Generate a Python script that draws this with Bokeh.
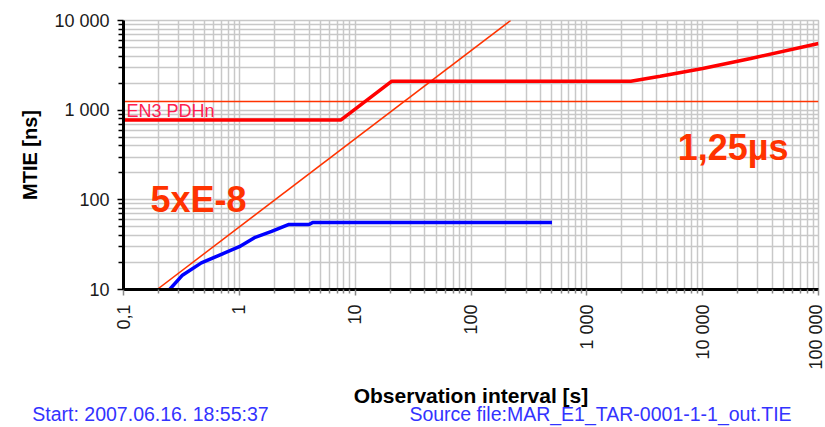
import math
from bokeh.plotting import figure
from bokeh.models import FixedTicker, Label, Range1d, LinearAxis, LinearScale
from bokeh.embed import file_html
from bokeh.resources import INLINE

# ---- data ----
x_ticks = [0.1, 1, 10, 100, 1000, 10000, 100000]
x_tick_labels = ["0,1", "1", "10", "100", "1 000", "10 000", "100 000"]
y_ticks = [10, 100, 1000, 10000]
y_tick_labels = ["10", "100", "1 000", "10 000"]

# measured MTIE (red, thick)
mtie_tau = [0.1, 7.5, 20.6, 2400, 4300, 10000, 26000, 100000]
mtie_ns = [775, 775, 2100, 2100, 2390, 2920, 3770, 5550]

# second measured MTIE (blue)
blue_tau = [0.25, 0.32, 0.47, 0.66, 1.0, 1.35, 1.9, 2.65, 4.0, 4.3, 500]
blue_ns = [10, 14.3, 19.8, 23.9, 30, 37.8, 44.5, 53, 53, 56, 56]

# 5xE-8 slope mask
slope_tau = [0.195, 220]
slope_ns = [10, 10000]

# EN3 PDHn limit 1,25 us
limit_tau = [0.1, 100000]
limit_ns = [1250, 1250]

footer_texts = ["Start: 2007.06.16. 18:55:37",
                "Source file:MAR_E1_TAR-0001-1-1_out.TIE"]

FONT = "Liberation Sans"

minor = [m * 10.0 ** e for e in range(-1, 5) for m in range(2, 10)]
yminor = [m * 10.0 ** e for e in range(1, 4) for m in range(2, 10)]

FRAME_W = 695
p = figure(width=825, height=427, x_axis_type="log", y_axis_type="log",
           x_range=Range1d(0.1, 100000), y_range=Range1d(10, 10000),
           output_backend="svg", toolbar_location=None,
           min_border_left=123, min_border_right=7, min_border_top=20,
           min_border_bottom=138, background_fill_color="white",
           border_fill_color="white")
p.outline_line_color = "#c8c8c8"
p.outline_line_width = 1.5

p.xaxis.ticker = FixedTicker(ticks=x_ticks, minor_ticks=minor)
p.yaxis.ticker = FixedTicker(ticks=y_ticks, minor_ticks=yminor)
p.xaxis.major_label_overrides = dict(zip(x_ticks, x_tick_labels))
p.yaxis.major_label_overrides = dict(zip(y_ticks, y_tick_labels))

for g in (p.xgrid, p.ygrid):
    g.grid_line_color = "#c8c8c8"
    g.grid_line_width = 1.5
    g.minor_grid_line_color = "#c8c8c8"
    g.minor_grid_line_width = 1.5

for ax in (p.xaxis, p.yaxis):
    ax.axis_line_color = "black"
    ax.axis_line_width = 3
    ax.major_label_text_font = FONT
    ax.major_label_text_font_size = "18px"
    ax.major_label_text_color = "#1a1a1a"
    ax.axis_label_text_font = FONT
    ax.axis_label_text_font_style = "bold"
    ax.axis_label_text_color = "black"
    ax.major_tick_in = 0
    ax.minor_tick_in = 0

p.xaxis.major_tick_out = 6
p.xaxis.minor_tick_out = 4
p.xaxis.major_tick_line_color = "#888888"
p.xaxis.minor_tick_line_color = "#888888"
p.xaxis.major_tick_line_width = 1.5
p.xaxis.minor_tick_line_width = 1.5
p.xaxis.major_label_orientation = math.pi / 2
p.xaxis.major_label_standoff = 9
p.xaxis.axis_label = "Observation interval [s]"
p.xaxis.axis_label_text_font_size = "21px"
p.xaxis.axis_label_text_line_height = 1.0
p.xaxis.axis_label_standoff = 11

p.yaxis.major_tick_out = 6
p.yaxis.minor_tick_out = 5
p.yaxis.major_tick_line_color = "black"
p.yaxis.minor_tick_line_color = "black"
p.yaxis.major_tick_line_width = 1.5
p.yaxis.minor_tick_line_width = 1.5
p.yaxis.major_label_standoff = 8
p.yaxis.axis_label = "MTIE [ns]"
p.yaxis.axis_label_text_font_size = "20px"
p.yaxis.axis_label_standoff = 10

# footer line as an extra, invisible axis below the x-axis (pixel range)
p.extra_x_ranges = {"foot": Range1d(0, FRAME_W)}
p.extra_x_scales = {"foot": LinearScale()}
foot_pos = [27, 477]
foot = LinearAxis(x_range_name="foot", ticker=FixedTicker(ticks=foot_pos, minor_ticks=[]),
                  major_label_overrides=dict(zip(foot_pos, footer_texts)))
foot.axis_line_color = None
foot.major_tick_line_color = None
foot.minor_tick_line_color = None
foot.major_tick_out = 0
foot.major_label_standoff = -7
foot.major_label_text_font = FONT
foot.major_label_text_font_size = "19.5px"
foot.major_label_text_line_height = 1.0
foot.major_label_text_color = "#3333ff"
p.add_layout(foot, "below")

# lines
p.line(limit_tau, limit_ns, line_color="#ff3300", line_width=1.5)
p.line(slope_tau, slope_ns, line_color="#ff3300", line_width=1.5)
p.line(mtie_tau, mtie_ns, line_color="#ff0000", line_width=3.5)
p.line(blue_tau, blue_ns, line_color="#0000ff", line_width=3.5)

# annotations
p.add_layout(Label(x=0.106, y=990, text="EN3 PDHn", text_font=FONT,
                   text_font_size="18px", text_color="#ff2050",
                   text_baseline="alphabetic"))
p.add_layout(Label(x=0.171, y=102, text="5xE-8", text_font=FONT,
                   text_font_size="36px", text_font_style="bold",
                   text_color="#ff3300", text_baseline="alphabetic"))
p.add_layout(Label(x=6080, y=381, text="1,25µs", text_font=FONT,
                   text_font_size="36px", text_font_style="bold",
                   text_color="#ff3300", text_baseline="alphabetic"))

open("out.html", "w").write(file_html(p, INLINE))
